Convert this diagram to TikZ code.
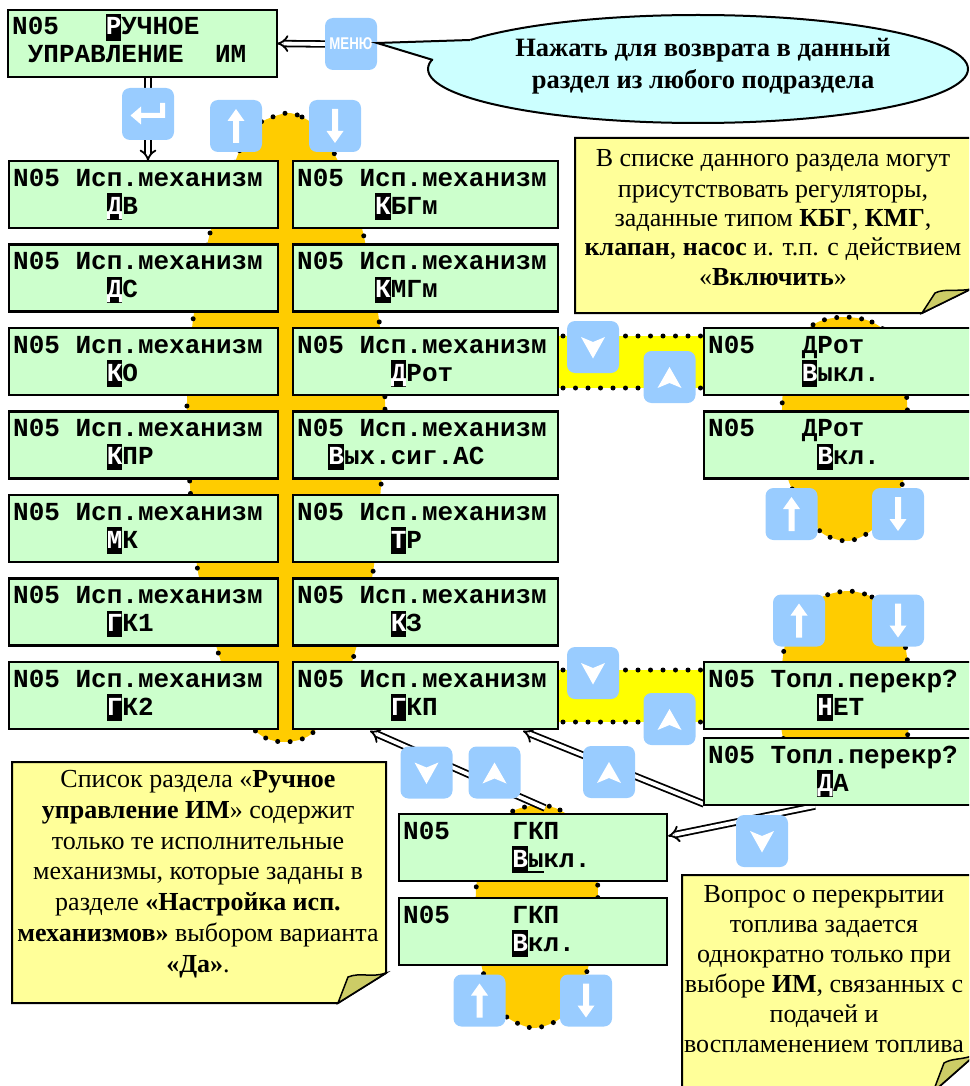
\documentclass[tikz,border=0pt]{standalone}
\usepackage{fontspec}
\setmainfont{Liberation Serif}
\newfontfamily\lcdfont{Liberation Mono}
\newfontfamily\btnfont{Liberation Sans}
\usetikzlibrary{arrows.meta}
\pgfdeclarelayer{bg}
\pgfsetlayers{bg,main}
\definecolor{lcdgreen}{HTML}{CCFFCC}
\definecolor{btnblue}{HTML}{99CCFF}
\definecolor{orangeY}{HTML}{FFCC00}
\definecolor{yellowB}{HTML}{FFFF00}
\definecolor{noteY}{HTML}{FFFF99}
\definecolor{flapC}{HTML}{CCCC66}
\definecolor{bubbleC}{HTML}{CCFFFF}
\newcommand\hlc[1]{\makebox[0pt][l]{\rule[-0.23em]{0.6em}{1.03em}}\textcolor{white}{#1}}
\newcommand\curs[1]{\makebox[0pt][l]{\rule[-0.24em]{0.6em}{0.08em}}#1}
\newcommand\lcd[8]{%
  \node[lcd, minimum width=#4pt] (#1) at (#2,#3) {};
  \node[lt] (#1-a) at ({#2+4},{#3+25}) {N05};
  \node[lt] (#1-b) at ({#2+4+#5*15.6},{#3+25}) {#6};
  \node[lt] (#1-c) at ({#2+4+#7*15.6},{#3+53}) {#8};
}
\newcommand\btn[3]{\node[btn] (#1) at (#2) {}; \pic at (#2) {#3};}
\tikzset{
 pics/uparr/.style={code={\fill[white] (0,-17)--(-8.5,-5)--(-3,-5)--(-3,17)--(3,17)--(3,-5)--(8.5,-5)--cycle;}},
 pics/dnarr/.style={code={\fill[white] (0,17)--(-8.5,5)--(-3,5)--(-3,-17)--(3,-17)--(3,5)--(8.5,5)--cycle;}},
 pics/upchev/.style={code={\fill[white] (0,-10)--(12,11)--(0,6)--(-12,11)--cycle;}},
 pics/dnchev/.style={code={\fill[white] (0,11.5)--(12,-10)--(0,-5)--(-12,-10)--cycle;}},
 pics/enter/.style={code={\fill[white] (17,-11)--(17,4)--(-7,4)--(-7,10.5)--(-17.5,1.5)--(-7,-7.5)--(-7,-1)--(12,-1)--(12,-11)--cycle;}},
}
\begin{document}
\begin{tikzpicture}[x=1pt,y=-1pt,
  lcd/.style={draw=black,line width=2.5pt,fill=lcdgreen,anchor=north west,inner sep=0pt,outer sep=0pt,minimum height=67pt},
  lt/.style={anchor=base west,inner sep=0pt,font=\lcdfont\bfseries\fontsize{26}{30}\selectfont},
  btn/.style={fill=btnblue,rounded corners=8pt,minimum width=52pt,minimum height=52pt,inner sep=0pt},
  dbl/.style={draw=black,line width=1.8pt,double=white,double distance=3.8pt,-{Implies[scale=1.6]}},
  dots/.style={draw=black,line width=5pt,line cap=round,dash pattern=on 0pt off 12.5pt},
  nt/.style={anchor=base,inner sep=0pt,font=\fontsize{26}{30}\selectfont},
  bt/.style={anchor=base,inner sep=0pt,font=\bfseries\fontsize{26.5}{30}\selectfont},
  notebox/.style={draw=black,line width=2pt,fill=noteY,line join=miter},
  flap/.style={draw=black,line width=1.5pt,fill=flapC},
]
\useasboundingbox (0,0) rectangle (969,1086);
\clip (0,0) rectangle (969,1086);
% lcd boxes
\lcd{top}{8}{10}{269}{6}{\hlc{Р}УЧНОЕ}{1}{УПРАВЛЕНИЕ}
\node[lt] (top-d) at ({8+4+13*15.6},{10+53}) {ИМ};
\lcd{L1}{9}{161}{269}{4}{Исп.механизм}{6}{\hlc{Д}В}
\lcd{L2}{9}{244.5}{269}{4}{Исп.механизм}{6}{\hlc{Д}С}
\lcd{L3}{9}{328}{269}{4}{Исп.механизм}{6}{\hlc{К}О}
\lcd{L4}{9}{411.5}{269}{4}{Исп.механизм}{6}{\hlc{К}ПР}
\lcd{L5}{9}{495}{269}{4}{Исп.механизм}{6}{\hlc{М}К}
\lcd{L6}{9}{578.5}{269}{4}{Исп.механизм}{6}{\hlc{Г}К1}
\lcd{L7}{9}{662}{269}{4}{Исп.механизм}{6}{\hlc{Г}К2}
\lcd{R1}{293}{161}{265}{4}{Исп.механизм}{5}{\hlc{К}БГм}
\lcd{R2}{293}{244.5}{265}{4}{Исп.механизм}{5}{\hlc{К}МГм}
\lcd{R3}{293}{328}{265}{4}{Исп.механизм}{6}{\hlc{Д}Рот}
\lcd{R4}{293}{411.5}{265}{4}{Исп.механизм}{2}{\hlc{В}ых.сиг.АС}
\lcd{R5}{293}{495}{265}{4}{Исп.механизм}{6}{\hlc{Т}Р}
\lcd{R6}{293}{578.5}{265}{4}{Исп.механизм}{6}{\hlc{К}З}
\lcd{R7}{293}{662}{265}{4}{Исп.механизм}{6}{\hlc{Г}КП}
\lcd{D1}{704}{328}{280}{6}{ДРот}{6}{\hlc{В}ыкл.}
\lcd{D2}{704}{411.5}{280}{6}{ДРот}{7}{\hlc{В}кл.}
\lcd{T1}{704}{662}{280}{4}{Топл.перекр?}{7}{\hlc{Н}ЕТ}
\lcd{T2}{704}{738}{280}{4}{Топл.перекр?}{7}{\hlc{Д}А}
\lcd{G1}{399}{814}{268}{7}{ГКП}{7}{\hlc{В}\curs{ы}кл.}
\lcd{G2}{399}{898}{268}{7}{ГКП}{7}{\hlc{В}кл.}
% buttons
\node[btn, font=\btnfont\bfseries\fontsize{17}{17}\selectfont, text=white] (menu) at (351,44) {\scalebox{0.78}[1]{МЕНЮ}};
\btn{enterb}{148,114}{enter}
\btn{bU0}{236,126}{uparr}
\btn{bD0}{335,126}{dnarr}
\btn{bD1}{593,347}{dnchev}
\btn{bU1}{669.5,377}{upchev}
\btn{bU2}{791.5,514}{uparr}
\btn{bD2}{898,514}{dnarr}
\btn{bU3}{799,620.5}{uparr}
\btn{bD3}{898,620.5}{dnarr}
\btn{bD4}{593,673}{dnchev}
\btn{bU4}{669.5,719}{upchev}
\btn{bU5}{609,772}{upchev}
\btn{bD6}{426.5,772.5}{dnchev}
\btn{bU6}{494.5,772.5}{upchev}
\btn{bD7}{762,841}{dnchev}
\btn{bU8}{479.5,1000.5}{uparr}
\btn{bD8}{586,1000.5}{dnarr}
% connector end points
\coordinate (cA) at (545,808);
\coordinate (cAt) at (370,731);
\coordinate (cB) at (704,804);
\coordinate (cBt) at (523,731);
\coordinate (cC) at (815,806);
\coordinate (cCt) at (668,836);
\begin{pgfonlayer}{bg}
% orange blobs
\draw[fill=orangeY,dots] plot[smooth cycle] coordinates {(287,113) (302,117) (318,128) (334,153) (352,195) (364,237) (379,320) (385,402) (381,486) (373,572) (355,652) (335,705) (310,735) (285,742) (262,736) (240,712) (218,652) (198,572) (190,486) (187,402) (193,320) (209,237) (225,190) (239,152) (250,130) (265,120)};
\draw[fill=orangeY,dots] plot[smooth cycle] coordinates {(845,317) (872,322) (893,340) (905,380) (908,440) (903,482) (890,505) (872,530) (848,541) (822,533) (805,508) (789,482) (782,440) (784,380) (797,340) (818,322)};
\draw[fill=orangeY,dots] plot[smooth cycle] coordinates {(848,591) (872,597) (892,615) (905,645) (909,690) (903,745) (845,752) (787,745) (781,690) (785,645) (800,615) (822,597)};
\draw[fill=orangeY,dots] plot[smooth cycle] coordinates {(540,805) (560,810) (578,825) (592,855) (598,890) (594,935) (588,968) (575,1000) (558,1020) (533,1028) (508,1018) (493,1000) (482,968) (477,935) (476,890) (482,855) (496,825) (515,810)};
% yellow bands
\fill[yellowB] (558,336) rectangle (704,388);
\draw[dots] (563,336) -- (704,336);
\draw[dots] (563,388) -- (704,388);
\fill[yellowB] (558,670) rectangle (704,722);
\draw[dots] (563,670) -- (704,670);
\draw[dots] (563,722) -- (704,722);
% connectors
\draw[dbl] (menu.west) -- (top.east);
\draw[dbl] (top.south -| enterb) -- (L1.north -| enterb);
\draw[dbl] (cA) -- (cAt);
\draw[dbl] (cB) -- (cBt);
\draw[dbl] (cC) -- (cCt);
\end{pgfonlayer}
% notes
\path[notebox] (575,138) -- (985,138) -- (985,282) -- (922,313) -- (575,313) -- cycle;
\path[flap] (922,313) -- (935,293) .. controls (945,288) and (958,292) .. (971,289) -- cycle;
\node[nt] (n1a) at (773,167) {В списке данного раздела могут};
\node[nt] (n1b) at (773,197) {присутствовать регуляторы,};
\node[nt] (n1c) at (773,226) {заданные типом \textbf{КБГ}, \textbf{КМГ},};
\node[nt] (n1d) at (773,255) {\textbf{клапан}, \textbf{насос} и. т.п. с действием};
\node[nt] (n1e) at (773,285) {«\textbf{Включить}»};
\path[notebox] (12,762) -- (386,762) -- (386,973) -- (338,1003) -- (12,1003) -- cycle;
\path[flap] (338,1003) -- (348,977) .. controls (360,972) and (372,978) .. (386,973) -- cycle;
\node[nt] (n2a) at (198,787) {Список раздела «\textbf{Ручное}};
\node[nt] (n2b) at (198,818) {\textbf{управление ИМ}» содержит};
\node[nt] (n2c) at (198,849) {только те исполнительные};
\node[nt] (n2d) at (198,879) {механизмы, которые заданы в};
\node[nt] (n2e) at (198,910) {разделе \textbf{«Настройка исп.}};
\node[nt] (n2f) at (198,941) {\textbf{механизмов»} выбором варианта};
\node[nt] (n2g) at (198,972) {\textbf{«Да»}.};
\path[notebox] (682,875) -- (975,875) -- (975,1055) -- (933,1092) -- (682,1092) -- cycle;
\path[flap] (933,1092) -- (944,1063) .. controls (952,1058) and (962,1060) .. (975,1055) -- cycle;
\node[nt] (n3a) at (824,902) {Вопрос о перекрытии};
\node[nt] (n3b) at (824,932) {топлива задается};
\node[nt] (n3c) at (824,962) {однократно только при};
\node[nt] (n3d) at (824,992) {выборе \textbf{ИМ}, связанных с};
\node[nt] (n3e) at (824,1022) {подачей и};
\node[nt] (n3f) at (824,1052) {воспламенением топлива};
% bubble
\path[fill=bubbleC,draw=black,line width=2pt] (698,69) ellipse [x radius=270pt, y radius=54pt];
\fill[bubbleC] (377,43) -- (470,40) -- (490,60) -- (440,66) -- (433,60) -- cycle;
\draw[line width=2pt,line join=miter] (470,40) -- (377,43) -- (433,60);
\node[bt] (b1) at (703,57) {Нажать для возврата в данный};
\node[bt] (b2) at (703,89) {раздел из любого подраздела};
\end{tikzpicture}
\end{document}
